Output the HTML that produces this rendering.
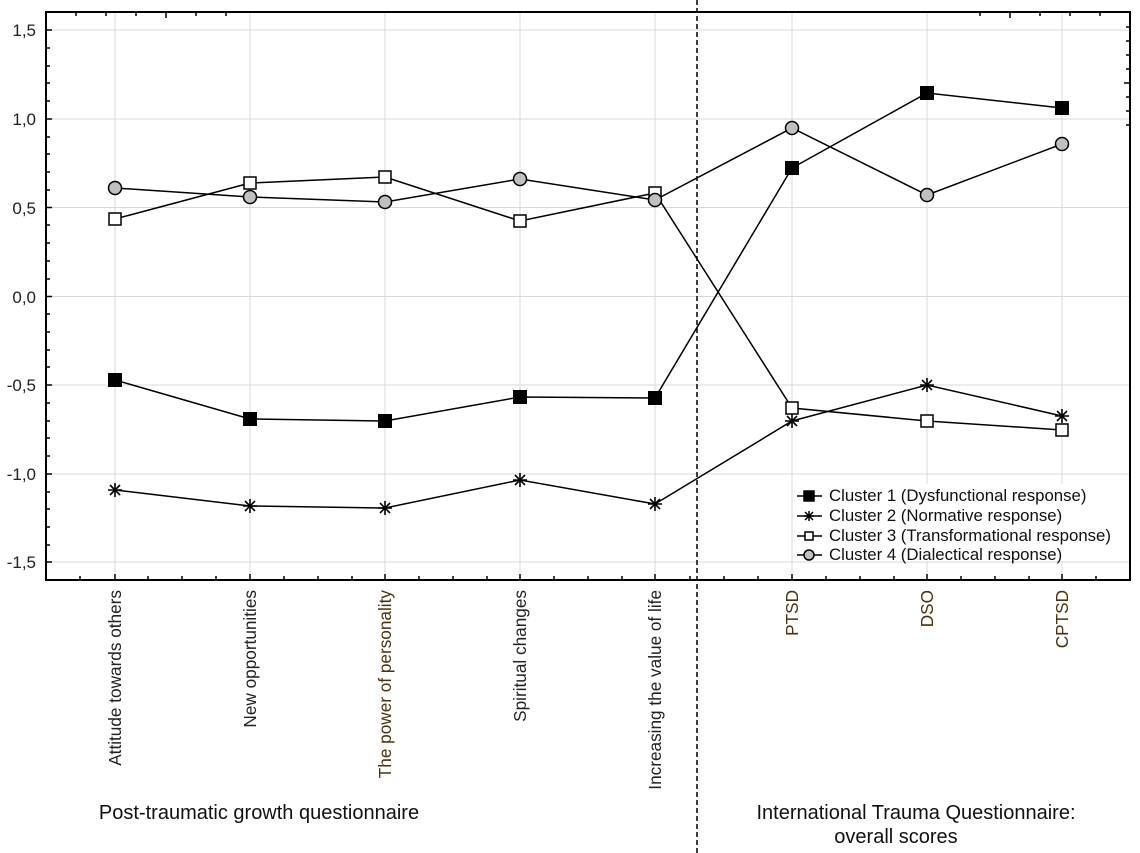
<!DOCTYPE html>
<html><head><meta charset="utf-8"><style>html,body{margin:0;padding:0;background:#fff}svg{display:block}</style></head>
<body>
<svg width="1140" height="853" xmlns="http://www.w3.org/2000/svg" font-family="Liberation Sans, Arial, sans-serif">
<g stroke="#d8d8d8" stroke-width="1">
<line x1="46" y1="30" x2="1130" y2="30"/><line x1="46" y1="119" x2="1130" y2="119"/><line x1="46" y1="207.5" x2="1130" y2="207.5"/><line x1="46" y1="296.5" x2="1130" y2="296.5"/><line x1="46" y1="385" x2="1130" y2="385"/><line x1="46" y1="474" x2="1130" y2="474"/><line x1="46" y1="562" x2="1130" y2="562"/>
<line x1="115" y1="12" x2="115" y2="580"/><line x1="250" y1="12" x2="250" y2="580"/><line x1="385" y1="12" x2="385" y2="580"/><line x1="520" y1="12" x2="520" y2="580"/><line x1="655" y1="12" x2="655" y2="580"/><line x1="792" y1="12" x2="792" y2="580"/><line x1="927" y1="12" x2="927" y2="580"/><line x1="1062" y1="12" x2="1062" y2="580"/>
</g>
<rect x="46" y="12" width="1084" height="568" fill="none" stroke="#000" stroke-width="2"/>
<g font-size="17" fill="#222" text-anchor="end">
<text x="36" y="36">1,5</text><text x="36" y="125">1,0</text><text x="36" y="214">0,5</text><text x="36" y="303">0,0</text><text x="36" y="391">-0,5</text><text x="36" y="480">-1,0</text><text x="36" y="568">-1,5</text>
</g>
<line x1="697" y1="0" x2="697" y2="853" stroke="#000" stroke-width="1.5" stroke-dasharray="5,3"/>
<g fill="none" stroke="#000" stroke-width="1.5">
<polyline points="115,380 250,419 385,421 520,397 655,398 792,168 927,93 1062,108"/>
<polyline points="115,490 250,506 385,508 520,480 655,504 792,421 927,385 1062,416"/>
<polyline points="115,219 250,183 385,177 520,221 655,193 792,408 927,421 1062,430"/>
<polyline points="115,188 250,197 385,202 520,179 655,200 792,128 927,195 1062,144"/>
</g>
<g fill="#000">
<rect x="108" y="373" width="14" height="14"/><rect x="243" y="412" width="14" height="14"/><rect x="378" y="414" width="14" height="14"/><rect x="513" y="390" width="14" height="14"/><rect x="648" y="391" width="14" height="14"/><rect x="785" y="161" width="14" height="14"/><rect x="920" y="86" width="14" height="14"/><rect x="1055" y="101" width="14" height="14"/>
</g>
<g stroke="#000" stroke-width="1.6">
<path d="M108,490h14M115,483v14M110,485l10,10M120,485l-10,10"/>
<path d="M243,506h14M250,499v14M245,501l10,10M255,501l-10,10"/>
<path d="M378,508h14M385,501v14M380,503l10,10M390,503l-10,10"/>
<path d="M513,480h14M520,473v14M515,475l10,10M525,475l-10,10"/>
<path d="M648,504h14M655,497v14M650,499l10,10M660,499l-10,10"/>
<path d="M785,421h14M792,414v14M787,416l10,10M797,416l-10,10"/>
<path d="M920,385h14M927,378v14M922,380l10,10M932,380l-10,10"/>
<path d="M1055,416h14M1062,409v14M1057,411l10,10M1067,411l-10,10"/>
</g>
<g fill="#fff" stroke="#000" stroke-width="1.5">
<rect x="109" y="213" width="12" height="12"/><rect x="244" y="177" width="12" height="12"/><rect x="379" y="171" width="12" height="12"/><rect x="514" y="215" width="12" height="12"/><rect x="649" y="187" width="12" height="12"/><rect x="786" y="402" width="12" height="12"/><rect x="921" y="415" width="12" height="12"/><rect x="1056" y="424" width="12" height="12"/>
</g>
<g fill="#c0c0c0" stroke="#000" stroke-width="1.5">
<circle cx="115" cy="188" r="6.5"/><circle cx="250" cy="197" r="6.5"/><circle cx="385" cy="202" r="6.5"/><circle cx="520" cy="179" r="6.5"/><circle cx="655" cy="200" r="6.5"/><circle cx="792" cy="128" r="6.5"/><circle cx="927" cy="195" r="6.5"/><circle cx="1062" cy="144" r="6.5"/>
</g>
<rect x="793" y="484" width="332" height="77" fill="#fff"/>
<g stroke="#000" stroke-width="1.5">
<line x1="797" y1="496" x2="822" y2="496"/><rect x="804" y="491" width="10" height="10" fill="#000"/>
<line x1="797" y1="516" x2="822" y2="516"/><path d="M804,516h10M809,511v10M805,512l8,8M813,512l-8,8"/>
<line x1="797" y1="536" x2="822" y2="536"/><rect x="805" y="532" width="8" height="8" fill="#fff"/>
<line x1="797" y1="555" x2="822" y2="555"/><circle cx="809" cy="555" r="5" fill="#c0c0c0"/>
</g>
<g font-size="16.8" fill="#111">
<text x="829" y="501">Cluster 1 (Dysfunctional response)</text>
<text x="829" y="521">Cluster 2 (Normative response)</text>
<text x="829" y="541">Cluster 3 (Transformational response)</text>
<text x="829" y="560">Cluster 4 (Dialectical response)</text>
</g>
<g font-size="17.2" fill="#222" text-anchor="end">
<text transform="translate(121,590) rotate(-90)">Attitude towards others</text>
<text transform="translate(256,590) rotate(-90)">New opportunities</text>
<text transform="translate(391,590) rotate(-90)" fill="#4a3210">The power of personality</text>
<text transform="translate(526,590) rotate(-90)">Spiritual changes</text>
<text transform="translate(661,590) rotate(-90)">Increasing the value of life</text>
<text transform="translate(798,590) rotate(-90)" fill="#4a3210">PTSD</text>
<text transform="translate(933,590) rotate(-90)" fill="#4a3210">DSO</text>
<text transform="translate(1068,590) rotate(-90)" fill="#4a3210">CPTSD</text>
</g>
<g font-size="20" fill="#111" text-anchor="middle">
<text x="259" y="819">Post-traumatic growth questionnaire</text>
<text x="916" y="819">International Trauma Questionnaire:</text>
<text x="896" y="843">overall scores</text>
</g>
<g stroke="#000" stroke-width="1.5">
<path d="M46,48h4M46,66h4M46,83h4M46,101h4M46,137h4M46,154h4M46,172h4M46,190h4M46,225h4M46,243h4M46,261h4M46,279h4M46,314h4M46,332h4M46,350h4M46,367h4M46,403h4M46,421h4M46,438h4M46,456h4M46,492h4M46,509h4M46,527h4M46,545h4"/>
<path d="M46,30h6M46,119h6M46,207.5h6M46,296.5h6M46,385h6M46,474h6M46,562h6"/>
<path d="M80,580v-4M148,580v-4M182,580v-4M216,580v-4M284,580v-4M318,580v-4M352,580v-4M419,580v-4M453,580v-4M487,580v-4M554,580v-4M588,580v-4M622,580v-4M690,580v-4M724,580v-4M758,580v-4M826,580v-4M860,580v-4M894,580v-4M961,580v-4M995,580v-4M1029,580v-4M1096,580v-4"/>
<path d="M115,580v-6M250,580v-6M385,580v-6M520,580v-6M655,580v-6M792,580v-6M927,580v-6M1062,580v-6"/>
<path d="M1130,27h-4M1130,41h-4M1130,55h-4M1130,69h-4M1130,97h-4M1130,111h-4M1130,125h-4"/>
<path d="M1130,83h-6"/>
<path d="M76,12v4M106,12v4M136,12v4M166,12v6M196,12v4M226,12v4M1010,12v6M980,12v4M1040,12v4M1070,12v4M1100,12v4"/>
</g>
</svg>
</body></html>
